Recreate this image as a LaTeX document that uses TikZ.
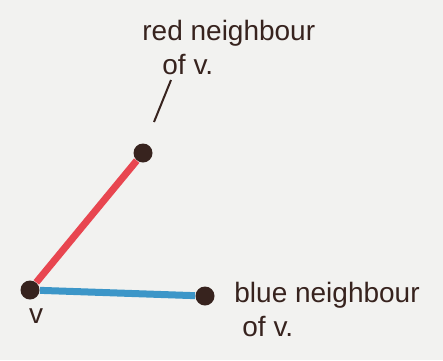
\documentclass[tikz,border=0pt]{standalone}
\usepackage{fontspec}
\setmainfont{Liberation Sans}
\definecolor{ink}{RGB}{55,35,30}
\definecolor{redpen}{RGB}{232,70,80}
\definecolor{bluepen}{RGB}{60,150,200}
\definecolor{paper}{RGB}{242,242,240}
\tikzset{
  dot/.style={circle,fill=ink,inner sep=0pt,minimum size=9.5pt},
  lbl/.style={text=ink,font=\fontsize{14}{17}\selectfont,align=left,inner sep=0pt},
  edge/.style={line width=3.5pt},
}
\begin{document}
\begin{tikzpicture}[x=0.5pt,y=-0.5pt]
\fill[paper] (0,0) rectangle (443,360);
\useasboundingbox (0,0) rectangle (443,360);
\node[dot] (r) at (143,153) {};
\node[dot] (v) at (30,290) {};
\node[dot] (b) at (205,296) {};
\draw[edge,redpen] (v) -- (r);
\draw[edge,bluepen] (v) -- (b);
\node[lbl,anchor=north west] (rl) at (142,20) {red neighbour\\\hspace{10pt}of v.};
\coordinate (rt) at (171,80);
\coordinate (rh) at (154,122);
\draw[ink,line width=1pt] (rt) -- (rh);
\node[lbl,anchor=north] (vl) at (36,308) {v};
\node[lbl,anchor=north west] (bl) at (234,282) {blue neighbour\\\hspace{4pt}of v.};
\end{tikzpicture}
\end{document}
